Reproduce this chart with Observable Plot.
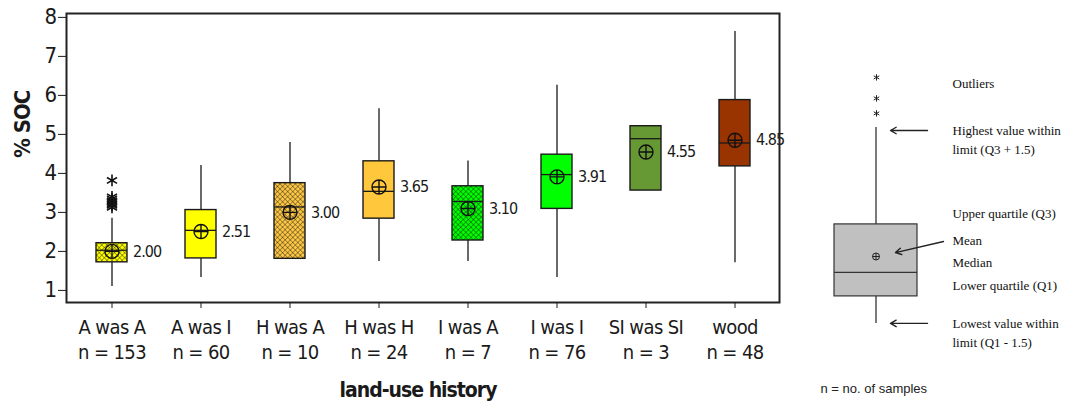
<!DOCTYPE html>
<html><head><meta charset="utf-8">
<script src="https://cdn.jsdelivr.net/npm/d3@7"></script>
<script src="https://cdn.jsdelivr.net/npm/@observablehq/plot@0.6"></script>
<style>
body{margin:0;background:#fff;}
#wrap{position:relative;width:1069px;height:402px;overflow:hidden;background:#fff;}
#main{position:absolute;left:0;top:0;}
#legend{position:absolute;left:790px;top:0;}
</style></head><body><div id="wrap"><div id="main"></div><div id="legend"></div></div>
<script>
// ---- data ----
const categories = ["A was A","A was I","H was A","H was H","I was A","I was I","SI was SI","wood"];
const sampleSizes = [153,60,10,24,7,76,3,48];
const whiskerLow  = [1.10,1.33,1.81,1.74,1.74,1.33,3.56,1.71];
const q1Values    = [1.72,1.82,1.81,2.84,2.28,3.09,3.56,4.18];
const medianValues= [2.03,2.54,3.14,3.54,3.28,3.97,4.89,4.78];
const q3Values    = [2.21,3.06,3.75,4.31,3.67,4.48,5.21,5.88];
const whiskerHigh = [2.85,4.20,4.79,5.66,4.32,6.26,5.21,7.64];
const meanValues  = [2.00,2.51,3.00,3.65,3.10,3.91,4.55,4.85];
const boxColors   = ["#ffff00","#ffff00","#ffc844","#ffc83c","#00ff00","#00ff00","#669933","#993300"];
const hatched     = [true,false,true,false,true,false,false,false];
const outlierCategory = ["A was A","A was A","A was A","A was A","A was A","A was A","A was A","A was A"];
const outlierValues   = [3.82,3.40,3.35,3.30,3.26,3.22,3.18,3.13];
const yTicks = [1,2,3,4,5,6,7,8];

// legend (schematic example values)
const legendBox = [{x1:44, x2:127, lo:0.57, q1:1.47, median:2.27, mean:2.8, q3:3.87, hi:7.1}];
const legendOutliers = [7.57, 8.07, 8.77];
const legendTexts = ["Outliers","Highest value within","limit (Q3 + 1.5)","Upper quartile (Q3)","Mean","Median","Lower quartile (Q1)","Lowest value within","limit (Q1 - 1.5)"];
const legendTextY = [8.57, 7.0, 6.37, 4.23, 3.33, 2.6, 1.83, 0.57, -0.07];
const legendArrows = [{x1:137,y1:7.0,x2:100,y2:7.0},{x1:137,y1:0.57,x2:100,y2:0.57},{x1:153,y1:3.3,x2:105,y2:2.93}];

const rows = categories.map((c,i)=>({cat:c, n:sampleSizes[i], lo:whiskerLow[i], q1:q1Values[i], median:medianValues[i], q3:q3Values[i], hi:whiskerHigh[i], mean:meanValues[i], color:boxColors[i], hatched:hatched[i]}));
const outliers = outlierValues.map((v,i)=>({cat:outlierCategory[i], v}));
const nOf = Object.fromEntries(rows.map(d=>[d.cat,d.n]));

const circlePlus = {draw(ctx, size){ const r = Math.sqrt(size/Math.PI);
  ctx.moveTo(r,0); ctx.arc(0,0,r,0,2*Math.PI);
  ctx.moveTo(-r,0); ctx.lineTo(r,0); ctx.moveTo(0,-r); ctx.lineTo(0,r);}};

const FONT = "'DejaVu Sans Condensed','DejaVu Sans',sans-serif";
const inset = 29;

const main = Plot.plot({
  width: 790, height: 402,
  marginLeft: 66, marginRight: 11, marginTop: 13, marginBottom: 100,
  style: {fontFamily: FONT, color: "#1a1a1a", background: "#fff"},
  x: {type: "band", domain: categories, padding: 0},
  y: {domain: [0.69, 8.10]},
  color: {type: "identity"},
  marks: [
    Plot.ruleX(rows, {x:"cat", y1:"q3", y2:"hi", stroke:"#1a1a1a", strokeWidth:1.3}),
    Plot.ruleX(rows, {x:"cat", y1:"lo", y2:"q1", stroke:"#1a1a1a", strokeWidth:1.3}),
    Plot.barY(rows, {x:"cat", y1:"q1", y2:"q3", fill:"color", insetLeft:inset, insetRight:inset}),
    Plot.barY(rows.filter(d=>d.hatched), {x:"cat", y1:"q1", y2:"q3", fill:"url(#xhatch)", insetLeft:inset, insetRight:inset}),
    Plot.barY(rows, {x:"cat", y1:"q1", y2:"q3", fill:"none", stroke:"#1a1a1a", strokeWidth:1.4, insetLeft:inset, insetRight:inset}),
    Plot.tickY(rows, {x:"cat", y:"median", stroke:"#1a1a1a", strokeWidth:1.3, insetLeft:inset, insetRight:inset}),
    Plot.dot(rows, {x:"cat", y:"mean", r:7, symbol:circlePlus, stroke:"#111", fill:"none", strokeWidth:1.4}),
    Plot.dot(outliers, {x:"cat", y:"v", r:5.5, symbol:"asterisk", stroke:"#111", strokeWidth:1.6}),
    Plot.text(rows, {x:"cat", y:"mean", text:d=>d.mean.toFixed(2), dx:21, textAnchor:"start", fontSize:16, fill:"#1a1a1a"}),
    Plot.frame({stroke:"#222", strokeWidth:2}),
    Plot.axisY({ticks: yTicks, tickSize: 8, tickPadding: 2, fontSize: 22, label: null}),
    Plot.axisX({tickSize: 6, tickPadding: 8, fontSize: 20, lineHeight: 1.25, label: null,
      tickFormat: d => d + "\n" + "n = " + nOf[d]}),
    Plot.text(["% SOC"], {frameAnchor:"left", dx:-44, rotate:-90, fontWeight:"bold", fontSize:22}),
    Plot.text(["land-use history"], {frameAnchor:"bottom", dy:94, dx:-5, fontWeight:"bold", fontSize:21})
  ]
});
// crosshatch pattern
const defs = d3.select(main).insert("defs", ":first-child");
const pat = defs.append("pattern").attr("id","xhatch").attr("width",3.6).attr("height",3.6)
  .attr("patternUnits","userSpaceOnUse").attr("patternTransform","rotate(45)");
pat.append("path").attr("d","M0,0H3.6M0,0V3.6").attr("stroke","#111").attr("stroke-width",0.75);
d3.select(main).selectAll("g[aria-label='text'] text").style("letter-spacing","-1px");
d3.select(main).selectAll("g[aria-label='x-axis tick label'] text, g[aria-label='y-axis tick label'] text").style("letter-spacing","-0.6px");
document.getElementById("main").append(main);

const SERIF = "'Liberation Serif','DejaVu Serif',serif";
const legend = Plot.plot({
  width: 279, height: 402, margin: 0,
  style: {fontFamily: SERIF, color: "#111", background: "#fff"},
  x: {domain: [0, 279], range: [0, 279], axis: null},
  y: {domain: [0, 10], range: [340, 40], axis: null},
  marks: [
    Plot.ruleX(legendBox, {x: d => (d.x1+d.x2)/2, y1:"q3", y2:"hi", stroke:"#222", strokeWidth:1.2}),
    Plot.ruleX(legendBox, {x: d => (d.x1+d.x2)/2, y1:"lo", y2:"q1", stroke:"#222", strokeWidth:1.2}),
    Plot.rect(legendBox, {x1:"x1", x2:"x2", y1:"q1", y2:"q3", fill:"#c0c0c0", stroke:"#333", strokeWidth:1.2}),
    Plot.ruleY(legendBox, {x1:"x1", x2:"x2", y:"median", stroke:"#333", strokeWidth:1.2}),
    Plot.dot(legendBox, {x: d => (d.x1+d.x2)/2, y:"mean", r:3.5, symbol:circlePlus, stroke:"#222", fill:"none", strokeWidth:1}),
    Plot.dot(legendOutliers, {x: () => 86, y: d => d, r:3, symbol:"asterisk", stroke:"#222", strokeWidth:1}),
    Plot.arrow(legendArrows, {x1:"x1", y1:"y1", x2:"x2", y2:"y2", stroke:"#222", strokeWidth:1.4, headLength:7}),
    Plot.text(legendTexts, {x: () => 162, y: (d,i) => legendTextY[i], text: d => d, textAnchor:"start", fontSize:13, fill:"#111"}),
    Plot.text(["n = no. of samples"], {x: () => 30, y: () => -1.6, textAnchor:"start", fontSize:13, fill:"#222", fontFamily:"'Liberation Sans',Arial,sans-serif"})
  ]
});
document.getElementById("legend").append(legend);
</script></body></html>
